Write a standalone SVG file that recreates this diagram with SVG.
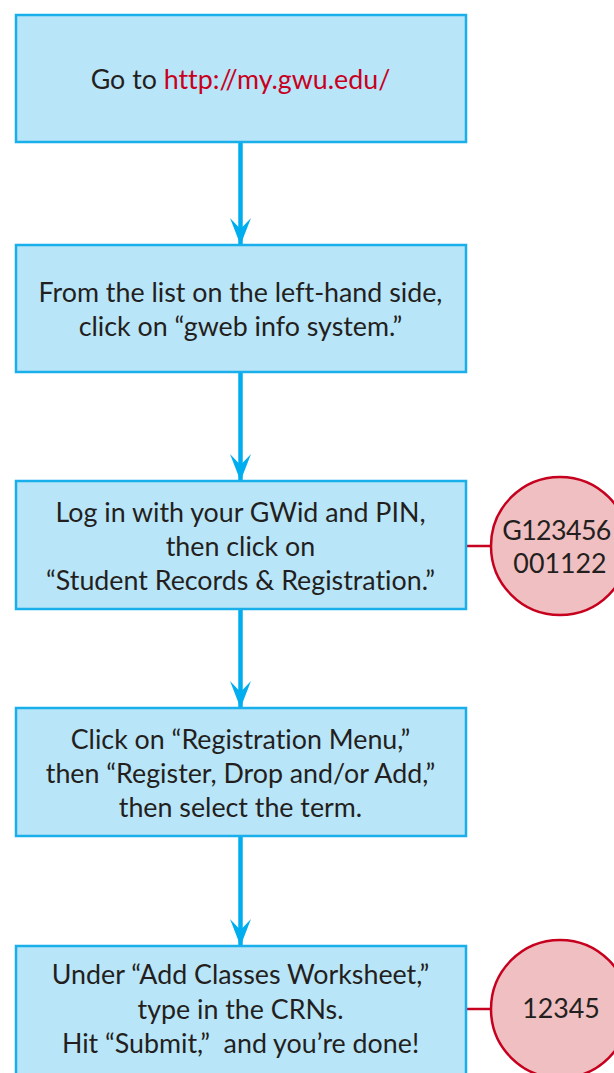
<svg xmlns="http://www.w3.org/2000/svg" width="614" height="1073" viewBox="0 0 614 1073">
<defs>
<style>
.box{fill:#B9E5F8;stroke:#19AFEB;stroke-width:2.5}
.circ{fill:#F0BFC1;stroke:#C6001E;stroke-width:2.5}
.t{font-family:Lato,"Open Sans","Liberation Sans",sans-serif;font-size:26.8px;fill:#231F20;text-anchor:middle;font-variant-ligatures:none}
.red{fill:#C8001E}
.arrow{stroke:#00AEEF;stroke-width:4.5;fill:none}
.link{stroke:#C6001E;stroke-width:2.5;fill:none}
</style>
<marker id="ah" viewBox="0 0 28 22" refX="27" refY="11" markerWidth="28" markerHeight="22" markerUnits="userSpaceOnUse" orient="auto">
<path d="M28,11 L1,0.5 L12,11 L1,21.5 Z" fill="#00AEEF"/>
</marker>
</defs>
<rect width="614" height="1073" fill="#fff"/>
<g id="connectors">
<line class="arrow" x1="240.5" y1="143" x2="240.5" y2="244" marker-end="url(#ah)"/>
<line class="arrow" x1="240.5" y1="373" x2="240.5" y2="480" marker-end="url(#ah)"/>
<line class="arrow" x1="240.5" y1="610" x2="240.5" y2="707" marker-end="url(#ah)"/>
<line class="arrow" x1="240.5" y1="837" x2="240.5" y2="945" marker-end="url(#ah)"/>
<line class="link" x1="466" y1="546" x2="491" y2="546"/>
<line class="link" x1="466" y1="1009" x2="491" y2="1009"/>
</g>
<g id="step1">
<rect class="box" x="16" y="15" width="450" height="127"/>
<text class="t" x="240.5" y="89">Go to <tspan class="red">http://my.gwu.edu/</tspan></text>
</g>
<g id="step2">
<rect class="box" x="16" y="245" width="450" height="127"/>
<text class="t" x="240.5" y="302">From the list on the left-hand side,</text>
<text class="t" x="240.5" y="336">click on “gweb info system.”</text>
</g>
<g id="step3">
<rect class="box" x="16" y="481" width="450" height="128"/>
<text class="t" x="240.5" y="522">Log in with your GWid and PIN,</text>
<text class="t" x="240.5" y="556">then click on</text>
<text class="t" x="240.5" y="590">“Student Records &amp; Registration.”</text>
</g>
<g id="step4">
<rect class="box" x="16" y="708" width="450" height="128"/>
<text class="t" x="240.5" y="749">Click on “Registration Menu,”</text>
<text class="t" x="240.5" y="783">then “Register, Drop and/or Add,”</text>
<text class="t" x="240.5" y="817">then select the term.</text>
</g>
<g id="step5">
<rect class="box" x="16" y="946" width="450" height="140"/>
<text class="t" x="240.5" y="984">Under “Add Classes Worksheet,”</text>
<text class="t" x="240.5" y="1019">type in the CRNs.</text>
<text class="t" x="240.5" y="1053" style="white-space:pre">Hit “Submit,”  and you’re done!</text>
</g>
<g id="id-pin">
<circle class="circ" cx="560" cy="546" r="69"/>
<text class="t" x="556.5" y="540" letter-spacing="-0.6">G123456</text>
<text class="t" x="560" y="573">001122</text>
</g>
<g id="crn">
<circle class="circ" cx="560" cy="1009" r="69"/>
<text class="t" x="561" y="1018">12345</text>
</g>
</svg>
